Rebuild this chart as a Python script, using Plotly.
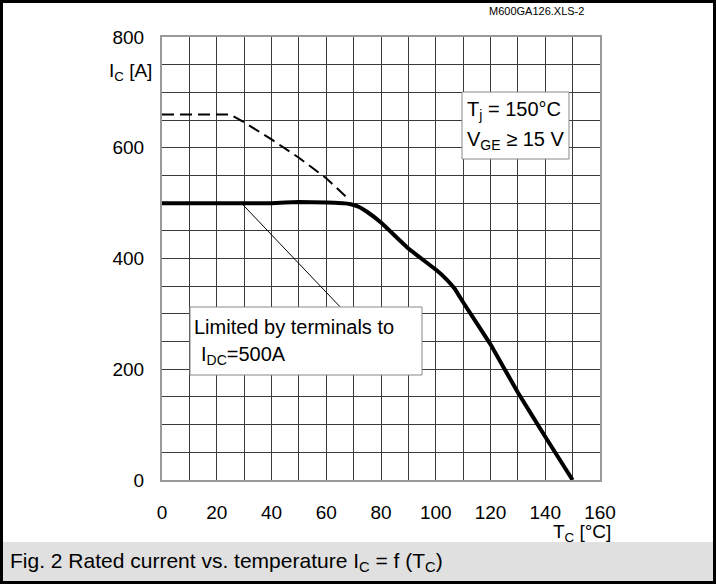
import plotly.graph_objects as go

# Data
tc_dash = [0, 25, 30, 40, 50, 60, 68]
ic_dash = [660, 660, 646, 615, 582, 545, 508]

tc_main = [0, 20, 40, 50, 60, 66, 69, 72, 75, 80, 90, 100, 104, 107, 110, 120, 130, 140, 150]
ic_main = [500, 500, 500, 502, 501, 500, 498, 493, 484, 465, 418, 380, 362, 345, 321, 245, 158, 78, 0]

tc_pointer = [29, 65]
ic_pointer = [500, 313]

x_ticks = [0, 20, 40, 60, 80, 100, 120, 140, 160]
y_ticks = [0, 200, 400, 600, 800]

W, H = 716, 584
L, R, T, B = 162, 600, 37, 480  # plot area in pixels

def px(x):
    return (x - L) / (R - L)

def py(y):
    return (B - y) / (B - T)

FONT = "Liberation Sans, Arial, sans-serif"
GRID = "#3a3a3a"

fig = go.Figure()
fig.add_trace(go.Scatter(x=tc_dash, y=ic_dash, mode="lines",
                         line=dict(color="black", width=2, dash="12px,6px"),
                         hoverinfo="skip"))
fig.add_trace(go.Scatter(x=tc_main, y=ic_main, mode="lines",
                         line=dict(color="black", width=4, shape="spline", smoothing=0.15),
                         hoverinfo="skip"))
fig.add_trace(go.Scatter(x=tc_pointer, y=ic_pointer, mode="lines",
                         line=dict(color="black", width=1),
                         hoverinfo="skip"))

fig.update_layout(
    width=W, height=H,
    margin=dict(l=L, r=W - R, t=T, b=H - B),
    paper_bgcolor="white", plot_bgcolor="white",
    showlegend=False,
    font=dict(family=FONT, size=19, color="black"),
    xaxis=dict(range=[0, 160], tickvals=x_ticks, showgrid=True, gridcolor=GRID,
               gridwidth=1, zeroline=False, showline=True, linecolor="#999",
               linewidth=2, mirror=True, ticks="", ticklabelstandoff=14,
               tickfont=dict(size=19),
               minor=dict(dtick=10, showgrid=True, gridcolor=GRID, gridwidth=1)),
    yaxis=dict(range=[0, 800], tickvals=y_ticks, showgrid=True, gridcolor=GRID,
               gridwidth=1, zeroline=False, showline=True, linecolor="#999",
               linewidth=2, mirror=True, ticks="", ticklabelstandoff=12,
               tickfont=dict(size=19),
               minor=dict(dtick=50, showgrid=True, gridcolor=GRID, gridwidth=1)),
)

shapes = []
# caption background
shapes.append(dict(type="rect", xref="paper", yref="paper", layer="below",
                   x0=px(0), x1=px(W), y0=py(542), y1=py(H),
                   fillcolor="#e0e0e0", line=dict(width=0)))
# outer frame
shapes.append(dict(type="rect", xref="paper", yref="paper",
                   x0=px(1.5), x1=px(W - 1.5), y0=py(1.5), y1=py(H - 1.5),
                   line=dict(color="black", width=3)))
# annotation boxes
shapes.append(dict(type="rect", xref="paper", yref="paper",
                   x0=px(190), x1=px(422), y0=py(307), y1=py(375),
                   fillcolor="white", line=dict(color="#888", width=1)))
shapes.append(dict(type="rect", xref="paper", yref="paper",
                   x0=px(462), x1=px(569), y0=py(92), y1=py(159),
                   fillcolor="white", line=dict(color="#888", width=1)))
fig.update_layout(shapes=shapes)

ann = [
    dict(text="M600GA126.XLS-2", x=px(586), y=py(11), xanchor="right", yanchor="middle",
         font=dict(size=11)),
    dict(text="I<sub>C</sub> [A]", x=px(107), y=py(72), xanchor="left", yanchor="middle",
         font=dict(size=19)),
    dict(text="T<sub>C</sub> [°C]", x=px(613), y=py(533), xanchor="right", yanchor="middle",
         font=dict(size=19)),
    dict(text="Limited by terminals to", x=px(192), y=py(327), xanchor="left",
         yanchor="middle", font=dict(size=20)),
    dict(text="I<sub>DC</sub>=500A", x=px(199), y=py(355), xanchor="left",
         yanchor="middle", font=dict(size=20)),
    dict(text="T<sub>j</sub> = 150°C", x=px(465), y=py(111), xanchor="left",
         yanchor="middle", font=dict(size=20)),
    dict(text="V<sub>GE</sub> ≥ 15 V", x=px(465), y=py(140), xanchor="left",
         yanchor="middle", font=dict(size=20)),
    dict(text="Fig. 2 Rated current vs. temperature I<sub>C</sub> = f (T<sub>C</sub>)",
         x=px(8), y=py(562), xanchor="left", yanchor="middle", font=dict(size=21)),
]
for a in ann:
    a.update(xref="paper", yref="paper", showarrow=False)
fig.update_layout(annotations=ann)

fig.write_html("out.html")
